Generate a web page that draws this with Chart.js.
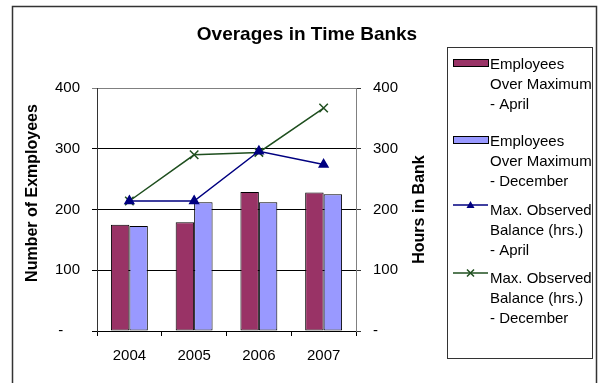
<!DOCTYPE html>
<html>
<head>
<meta charset="utf-8">
<script src="https://cdn.jsdelivr.net/npm/chart.js"></script>
<style>
  body { margin: 0; background: #fff; }
  canvas { display: block; }
</style>
</head>
<body>
<canvas id="chart" width="600" height="383"></canvas>
<script>
// Данные
const years = ['2004', '2005', '2006', '2007'];
const empApril = [175, 179, 229, 228];
const empDecember = [173, 212, 212, 225];
const hoursApril = [214, 214, 296, 274];
const hoursDecember = [214, 290, 294, 367];
const legendLabels = [
  ['Employees', 'Over Maximum', '- April'],
  ['Employees', 'Over Maximum', '- December'],
  ['Max. Observed', 'Balance (hrs.)', '- April'],
  ['Max. Observed', 'Balance (hrs.)', '- December']
];
const chartTitle = 'Overages in Time Banks';
const leftTitle = 'Number of Exmployees';
const rightTitle = 'Hours in Bank';

const FONT = '"Liberation Sans", Arial, sans-serif';
const canvas = document.getElementById('chart');
const context = canvas.getContext('2d');

// Рамка, заголовки и легенда
const decor = {
  id: 'decor',
  beforeDraw(chart) {
    const ctx = chart.ctx;
    ctx.save();
    ctx.fillStyle = '#fff';
    ctx.fillRect(0, 0, chart.width, chart.height);
    ctx.strokeStyle = '#333';
    ctx.lineWidth = 1.5;
    ctx.strokeRect(12.5, 6.5, 584, 400);
    ctx.restore();
  },
  afterDraw(chart) {
    const ctx = chart.ctx;
    const area = chart.chartArea;
    ctx.save();
    ctx.fillStyle = '#000';
    ctx.textAlign = 'center';
    ctx.textBaseline = 'middle';
    ctx.font = 'bold 19px ' + FONT;
    ctx.fillText(chartTitle, 307, 35);

    ctx.font = 'bold 16px ' + FONT;
    ctx.save();
    ctx.translate(33, 193);
    ctx.rotate(-Math.PI / 2);
    ctx.fillText(leftTitle, 0, 0);
    ctx.restore();
    ctx.save();
    ctx.translate(420, (area.top + area.bottom) / 2);
    ctx.rotate(-Math.PI / 2);
    ctx.fillText(rightTitle, 0, 0);
    ctx.restore();

    // легенда
    ctx.strokeStyle = '#333';
    ctx.lineWidth = 1;
    ctx.strokeRect(447.5, 47.5, 145, 311);
    const tops = [65, 142, 211, 279];
    ctx.font = '15px ' + FONT;
    ctx.textAlign = 'left';
    chart.data.datasets.forEach((ds, i) => {
      const y = tops[i];
      if (ds.type === 'bar') {
        ctx.fillStyle = ds.backgroundColor;
        ctx.fillRect(453, y - 5, 35, 7);
        ctx.strokeStyle = '#000';
        ctx.strokeRect(453.5, y - 5.5, 35, 7);
      } else {
        const my = y - 6;
        ctx.strokeStyle = ds.borderColor;
        ctx.lineWidth = 1.5;
        ctx.beginPath();
        ctx.moveTo(453, my);
        ctx.lineTo(488, my);
        ctx.stroke();
        ctx.fillStyle = ds.borderColor;
        if (ds.pointStyle === 'triangle') {
          ctx.beginPath();
          ctx.moveTo(470.5, my - 4);
          ctx.lineTo(474.5, my + 3);
          ctx.lineTo(466.5, my + 3);
          ctx.closePath();
          ctx.fill();
        } else {
          ctx.beginPath();
          ctx.moveTo(467, my - 3.5); ctx.lineTo(474, my + 3.5);
          ctx.moveTo(474, my - 3.5); ctx.lineTo(467, my + 3.5);
          ctx.stroke();
        }
      }
      ctx.fillStyle = '#000';
      legendLabels[i].forEach((line, k) => {
        ctx.fillText(line, 490, y + k * 19.7);
      });
    });
    ctx.restore();
  }
};

const yTicks = {
  stepSize: 100,
  color: '#000',
  padding: 12,
  font: { family: FONT, size: 15 }
};

const barStyle = {
  type: 'bar',
  borderColor: '#000',
  borderWidth: 1,
  borderSkipped: false,
  categoryPercentage: 0.57,
  barPercentage: 1,
  yAxisID: 'y',
  order: 2
};

new Chart(context, {
  data: {
    labels: years,
    datasets: [
      Object.assign({}, barStyle, {
        label: 'Employees Over Maximum - April',
        data: empApril,
        backgroundColor: '#993366'
      }),
      Object.assign({}, barStyle, {
        label: 'Employees Over Maximum - December',
        data: empDecember,
        backgroundColor: '#9999FF'
      }),
      {
        type: 'line',
        label: 'Max. Observed Balance (hrs.) - April',
        data: hoursApril,
        borderColor: '#000080',
        backgroundColor: '#000080',
        borderWidth: 1.5,
        pointStyle: 'triangle',
        pointRadius: 5,
        yAxisID: 'y1',
        order: 0
      },
      {
        type: 'line',
        label: 'Max. Observed Balance (hrs.) - December',
        data: hoursDecember,
        borderColor: '#1f4f1f',
        backgroundColor: '#1f4f1f',
        borderWidth: 1.5,
        pointStyle: 'crossRot',
        pointRadius: 6,
        pointBorderWidth: 1.5,
        yAxisID: 'y1',
        order: 1
      }
    ]
  },
  options: {
    responsive: false,
    animation: false,
    layout: { padding: { left: 12, top: 88, right: 164, bottom: 12 } },
    plugins: {
      legend: { display: false },
      title: { display: false },
      tooltip: { enabled: false }
    },
    scales: {
      x: {
        offset: true,
        grid: { offset: true, drawOnChartArea: false, tickLength: 5, color: '#000' },
        border: { color: '#000' },
        ticks: { color: '#000', padding: 11, font: { family: FONT, size: 15 } },
        afterFit: (s) => { s.height = 40; }
      },
      y: {
        position: 'left',
        min: 0,
        max: 400,
        ticks: Object.assign({}, yTicks, {
          callback: (v) => v === 0 ? '-    ' : v
        }),
        grid: {
          tickLength: 5,
          color: (c) => c.tick && c.tick.value === 400 ? '#808080' : '#000'
        },
        border: { color: '#333' },
        afterFit: (s) => { s.width = 85; }
      },
      y1: {
        position: 'right',
        min: 0,
        max: 400,
        ticks: Object.assign({}, yTicks, {
          callback: (v) => v === 0 ? '-' : v
        }),
        grid: { drawOnChartArea: false, tickLength: 5, color: '#333' },
        border: { color: '#808080' },
        afterFit: (s) => { s.width = 80; }
      }
    }
  },
  plugins: [decor]
});
</script>
</body>
</html>
